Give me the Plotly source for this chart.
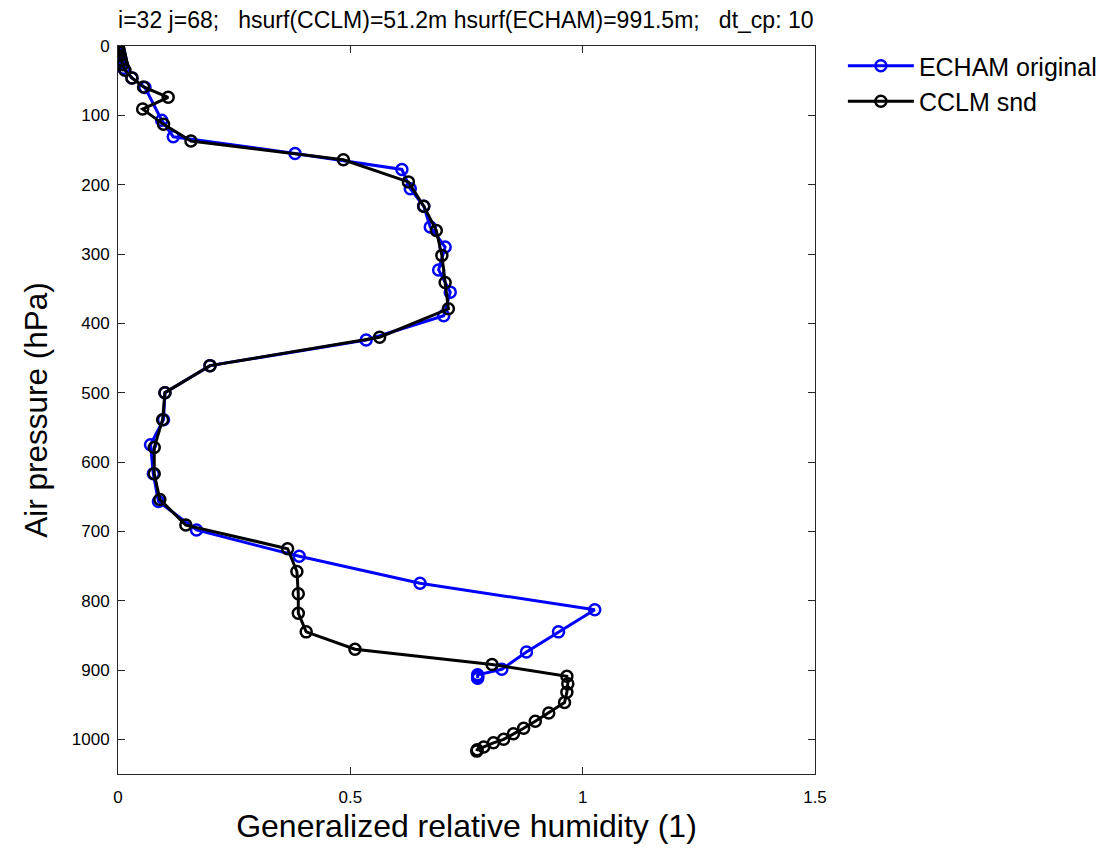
import plotly.graph_objects as go

# ECHAM original profile: generalized relative humidity vs. pressure (hPa)
echam_rh = [0.000, 0.001, 0.002, 0.004, 0.006, 0.008, 0.012, 0.030, 0.058, 0.094,
            0.119, 0.381, 0.611, 0.629, 0.658, 0.672, 0.704, 0.690, 0.715, 0.701,
            0.534, 0.198, 0.101, 0.098, 0.070, 0.076, 0.087, 0.169, 0.390, 0.650,
            1.026, 0.948, 0.879, 0.826, 0.774, 0.774, 0.774, 0.774]
echam_p = [0, 3, 7, 11, 17, 24, 32, 46, 60, 107,
           131, 155, 178, 206, 231, 261, 290, 323, 355, 389,
           424, 461, 500, 539, 575, 617, 657, 698, 736, 775,
           813, 845, 874, 899, 907, 909, 911, 912]

# CCLM sounding profile
cclm_rh = [0.000, 0.002, 0.003, 0.005, 0.007, 0.010, 0.015, 0.030, 0.055, 0.108,
           0.053, 0.098, 0.157, 0.485, 0.625, 0.658, 0.685, 0.697, 0.704, 0.711,
           0.563, 0.198, 0.101, 0.096, 0.078, 0.078, 0.090, 0.146, 0.365, 0.385,
           0.388, 0.388, 0.405, 0.510, 0.805, 0.966, 0.968, 0.966, 0.961, 0.927,
           0.898, 0.873, 0.851, 0.830, 0.808, 0.787, 0.773, 0.772]
cclm_p = [2, 5, 9, 14, 20, 27, 35, 46, 59, 74,
          91, 113, 137, 164, 196, 231, 266, 302, 341, 379,
          420, 461, 500, 539, 579, 617, 654, 691, 725, 758,
          790, 818, 845, 870, 892, 909, 920, 932, 947, 962,
          974, 984, 992, 1000, 1005, 1011, 1015, 1017]

x_ticks = [0, 0.5, 1, 1.5]
x_tick_text = ["0", "0.5", "1", "1.5"]
y_ticks = [0, 100, 200, 300, 400, 500, 600, 700, 800, 900, 1000]

title_text = "i=32 j=68;   hsurf(CCLM)=51.2m hsurf(ECHAM)=991.5m;   dt_cp: 10"

FONT = "Liberation Sans, Arial, sans-serif"

fig = go.Figure()
fig.add_trace(go.Scatter(
    x=echam_rh, y=echam_p, mode="lines+markers", name="ECHAM original",
    line=dict(color="#0000ff", width=3),
    marker=dict(symbol="circle-open", size=11, color="#0000ff", line=dict(width=2.5)),
))
fig.add_trace(go.Scatter(
    x=cclm_rh, y=cclm_p, mode="lines+markers", name="CCLM snd",
    line=dict(color="#000000", width=3),
    marker=dict(symbol="circle-open", size=11, color="#000000", line=dict(width=2.5)),
))

axis_common = dict(
    showgrid=False, zeroline=False, showline=True, linecolor="#262626", linewidth=1,
    mirror="ticks", ticks="inside", ticklen=7, tickcolor="#262626",
    tickfont=dict(family=FONT, size=17, color="#000000"),
)

fig.update_layout(
    width=1096, height=849,
    margin=dict(l=118, r=281, t=46, b=75, autoexpand=False),
    paper_bgcolor="white", plot_bgcolor="white",
    font=dict(family=FONT, color="#000000"),
    title=dict(text=title_text, x=0.425, xanchor="center", y=1 - 20 / 849, yanchor="middle",
               font=dict(family=FONT, size=23, color="#000000")),
    xaxis=dict(range=[0, 1.5], tickvals=x_ticks, ticktext=x_tick_text,
               title=dict(text="Generalized relative humidity (1)",
                          font=dict(family=FONT, size=32), standoff=8),
               ticklabelstandoff=8, **axis_common),
    yaxis=dict(range=[1050, 0], tickvals=y_ticks,
               title=dict(text="Air pressure (hPa)", font=dict(family=FONT, size=31.5), standoff=14),
               ticklabelstandoff=4, **axis_common),
    legend=dict(x=1.04, y=1.004, xanchor="left", yanchor="top",
                font=dict(family=FONT, size=25, color="#000000"),
                itemwidth=66, tracegroupgap=0, bgcolor="rgba(0,0,0,0)"),
    showlegend=True,
)

fig.write_html("out.html")
